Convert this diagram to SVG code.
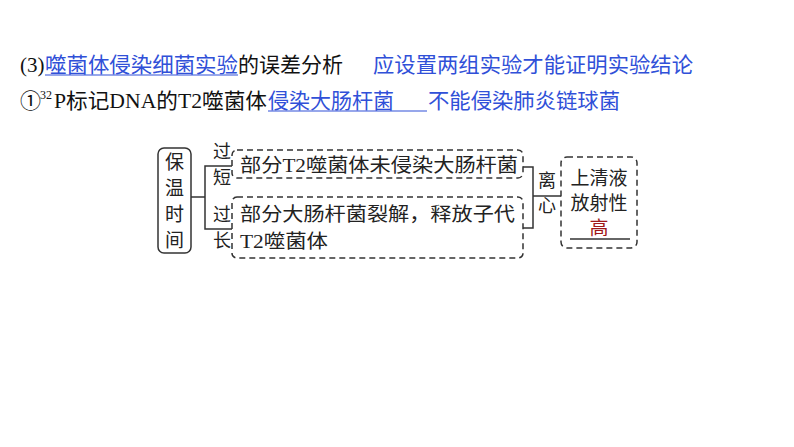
<svg xmlns="http://www.w3.org/2000/svg" width="794" height="447" viewBox="0 0 794 447">
<style>
.t{font-family:"Liberation Serif","Noto Sans CJK SC",serif;font-size:21px;fill:#111}
.b{fill:#3050d8}
.d{font-family:"Liberation Serif","Noto Sans CJK SC",serif;font-size:19px;fill:#222}
.s{font-family:"Liberation Serif","Noto Sans CJK SC",serif;font-size:18px;fill:#222}
.box{fill:none;stroke:#333;stroke-width:1.5}
.dash{fill:none;stroke:#333;stroke-width:1.5;stroke-dasharray:6 4}
.ln{fill:none;stroke:#333;stroke-width:1.5}
</style>
<rect width="794" height="447" fill="#fff"/>
<g id="title">
<text class="t" x="20" y="72">(3)</text>
<text class="t b" x="45" y="72" textLength="193" lengthAdjust="spacingAndGlyphs">噬菌体侵染细菌实验</text>
<line x1="45" y1="75" x2="238" y2="75" stroke="#3050d8" stroke-width="1.2"/>
<text class="t" x="238" y="72" textLength="105" lengthAdjust="spacingAndGlyphs">的误差分析</text>
<text class="t b" x="373" y="72" textLength="320" lengthAdjust="spacingAndGlyphs">应设置两组实验才能证明实验结论</text>
</g>
<g id="line2">
<text class="t" x="20" y="108">①</text>
<text class="t" x="40" y="99" style="font-size:12px">32</text>
<text class="t" x="54" y="108" textLength="213" lengthAdjust="spacingAndGlyphs">P标记DNA的T2噬菌体</text>
<text class="t b" x="268" y="108" textLength="126" lengthAdjust="spacingAndGlyphs">侵染大肠杆菌</text>
<line x1="268" y1="111" x2="427" y2="111" stroke="#3050d8" stroke-width="1.2"/>
<text class="t b" x="428" y="108" textLength="192" lengthAdjust="spacingAndGlyphs">不能侵染肺炎链球菌</text>
</g>
<g id="n-time">
<rect class="box" x="158" y="148" width="33" height="105" rx="6"/>
<text class="d" x="174.5" y="169" text-anchor="middle">保</text>
<text class="d" x="174.5" y="195" text-anchor="middle">温</text>
<text class="d" x="174.5" y="221" text-anchor="middle">时</text>
<text class="d" x="174.5" y="247" text-anchor="middle">间</text>
</g>
<g id="connectors">
<polyline class="ln" points="191,197 205,197"/>
<polyline class="ln" points="232,166 205,166 205,229 232,229"/>
<polyline class="ln" points="523,167 533,167 533,228 523,228"/>
<polyline class="ln" points="533,196 561,196"/>
</g>
<g id="labels">
<text class="s" x="222" y="158" text-anchor="middle">过</text>
<text class="s" x="222" y="184" text-anchor="middle">短</text>
<text class="s" x="222" y="221" text-anchor="middle">过</text>
<text class="s" x="222" y="247" text-anchor="middle">长</text>
<text class="s" x="547" y="187" text-anchor="middle">离</text>
<text class="s" x="547" y="212" text-anchor="middle">心</text>
</g>
<g id="n-short">
<rect class="dash" x="232" y="150" width="291" height="28" rx="5"/>
<text class="d" x="240" y="172" textLength="278" lengthAdjust="spacingAndGlyphs">部分T2噬菌体未侵染大肠杆菌</text>
</g>
<g id="n-long">
<rect class="dash" x="232" y="197" width="291" height="61" rx="5"/>
<text class="d" x="240" y="221" textLength="275" lengthAdjust="spacingAndGlyphs">部分大肠杆菌裂解，释放子代</text>
<text class="d" x="240" y="248" textLength="88" lengthAdjust="spacingAndGlyphs">T2噬菌体</text>
</g>
<g id="n-result">
<rect class="dash" x="561" y="157" width="76" height="91" rx="6"/>
<text class="d" x="599" y="185" text-anchor="middle">上清液</text>
<text class="d" x="599" y="210" text-anchor="middle">放射性</text>
<text class="d" x="599" y="235" text-anchor="middle" style="fill:#a01818">高</text>
<line x1="570" y1="239" x2="630" y2="239" stroke="#333" stroke-width="1.5"/>
</g>
</svg>
